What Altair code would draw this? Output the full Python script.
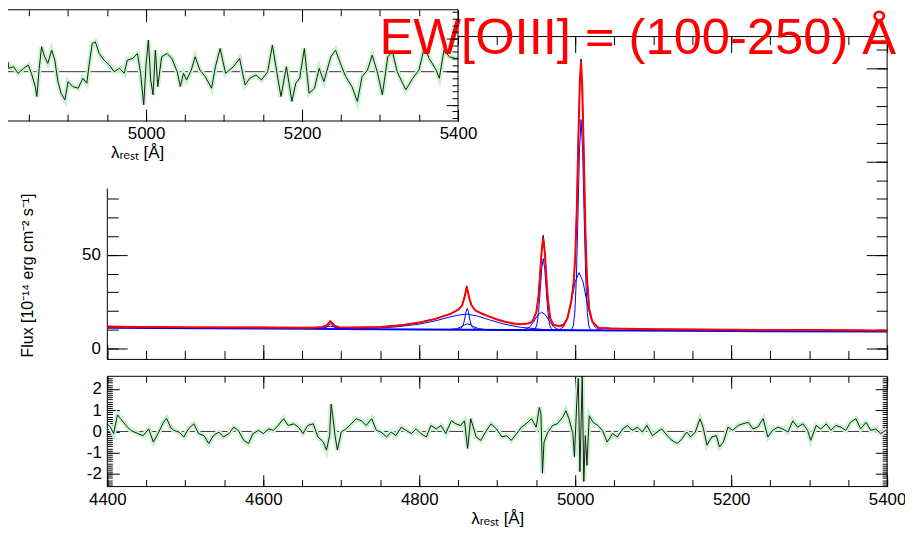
import altair as alt
import pandas as pd

FONT = "Liberation Sans"
TITLE_TEXT = "EW[OIII] = (100-250) Å"
Y_TITLE = "Flux [10⁻¹⁴ erg cm⁻² s⁻¹]"
X_TITLE = "λᵣₑₛₜ [Å]"

# ---------------- main panel: model (red), observed (black) ----------------
model_wave = [4400, 4500, 4600, 4660, 4675, 4681, 4686, 4691, 4697, 4720,
              4750, 4780, 4800, 4820, 4840, 4850, 4855, 4858, 4861, 4864,
              4867, 4872, 4880, 4890, 4900, 4910, 4920, 4930, 4940, 4945,
              4950, 4953, 4955, 4957, 4959, 4961, 4963, 4965, 4968, 4972,
              4980, 4985, 4990, 4995, 4998, 5000, 5002, 5004, 5006, 5007.5,
              5009, 5011, 5013, 5015, 5018, 5022, 5030, 5045, 5100, 5200,
              5300, 5400]
model_flux = [11.5, 11.3, 11.1, 11.0, 11.3, 12.1, 14.4, 12.1, 11.3, 11.1,
              11.4, 12.4, 13.8, 15.6, 18.4, 20.6, 23.0, 27.0, 33.0, 27.0,
              23.0, 20.2, 18.6, 16.9, 15.4, 14.2, 13.3, 12.9, 13.2, 14.3,
              19.0, 28.0, 40.0, 52.0, 59.0, 51.5, 38.0, 26.0, 16.0, 12.5,
              11.8, 12.3, 16.0, 25.3, 35.1, 48.5, 73.7, 110.7, 143.9, 153.5,
              140.8, 104.1, 64.5, 37.9, 20.7, 14.2, 10.9, 10.6, 10.2, 9.9,
              9.7, 9.5]
obs_flux = [11.8, 11.1, 11.2, 10.9, 11.4, 12.3, 14.9, 12.3, 11.0, 11.2,
            11.3, 12.6, 13.7, 15.8, 18.5, 20.9, 23.2, 27.6, 33.4, 27.0,
            23.3, 20.3, 18.5, 17.0, 15.3, 14.1, 13.5, 12.8, 13.3, 14.2,
            19.3, 27.8, 40.6, 52.5, 60.5, 51.0, 38.4, 26.3, 15.8, 12.4,
            12.2, 12.8, 16.3, 25.1, 35.5, 48.0, 76.0, 112.5, 142.0, 155.0,
            138.5, 106.0, 63.0, 38.8, 21.0, 14.1, 10.9, 10.7, 10.2, 10.0,
            9.9, 9.4]

# ---------------- blue fit components ----------------
cont_wave = [4400, 4600, 4800, 5000, 5200, 5400]
cont_flux = [10.9, 10.5, 10.0, 9.6, 9.2, 8.9]
heii_n_wave = [4672, 4679, 4682, 4684, 4686, 4688, 4690, 4693, 4700]
heii_n_flux = [10.6, 10.9, 11.6, 12.4, 13.0, 12.4, 11.6, 10.9, 10.6]
heii_b_wave = [4660, 4672, 4680, 4686, 4692, 4700, 4712]
heii_b_flux = [10.6, 10.9, 11.4, 11.7, 11.4, 10.9, 10.6]
hb_b_wave = [4700, 4740, 4770, 4800, 4820, 4840, 4852, 4862, 4875, 4890, 4910, 4930, 4960, 5000]
hb_b_flux = [10.3, 10.6, 11.4, 12.9, 14.6, 16.8, 17.9, 18.2, 17.2, 15.2, 12.8, 11.2, 10.0, 9.6]
hb_n_wave = [4848, 4853, 4856, 4858, 4860, 4861.5, 4863, 4865, 4867, 4870, 4875]
hb_n_flux = [10.1, 10.5, 12.0, 15.0, 19.5, 21.3, 19.5, 15.0, 12.0, 10.5, 10.1]
hb_i_wave = [4840, 4848, 4854, 4858, 4862, 4866, 4870, 4876, 4884]
hb_i_flux = [10.1, 10.5, 11.5, 12.5, 13.0, 12.5, 11.5, 10.5, 10.1]
o1_n_wave = [4947, 4949, 4951, 4953, 4955, 4957, 4959, 4961, 4963, 4965, 4967, 4969, 4971]
o1_n_flux = [9.8, 10.6, 12.9, 19.2, 30.3, 42.5, 48.0, 42.5, 30.3, 19.2, 12.9, 10.6, 9.8]
o1_b_wave = [4930, 4937, 4942, 4947, 4952, 4957, 4962, 4967, 4972, 4977, 4985]
o1_b_flux = [9.7, 10.3, 11.6, 14.4, 17.8, 19.3, 17.8, 14.4, 11.6, 10.3, 9.7]
o2_n_wave = [4995.5, 4997.5, 4999.5, 5001.5, 5003.5, 5005.5, 5007.5, 5009.5, 5011.5, 5013.5, 5015.5, 5017.5, 5019.5]
o2_n_flux = [10.0, 11.9, 19.1, 37.6, 70.4, 106.3, 122.5, 106.3, 70.4, 37.6, 19.1, 11.9, 10.0]
o2_b_wave = [4975, 4980, 4985, 4990, 4995, 5000, 5005, 5010, 5015, 5020, 5025, 5030, 5035]
o2_b_flux = [9.6, 9.9, 11.5, 16.0, 25.0, 35.6, 40.5, 35.6, 25.0, 16.0, 11.5, 9.9, 9.6]

# ---------------- bottom residual panel ----------------
res_wave = [4400, 4404, 4408, 4413, 4417, 4424, 4430, 4439, 4446, 4453, 4459, 4465, 4472, 4476, 4481,
            4485, 4492, 4498, 4504, 4511, 4517, 4524, 4530, 4536, 4543, 4549, 4556, 4562, 4568, 4575,
            4581, 4587, 4594, 4600, 4607, 4613, 4619, 4626, 4632, 4639, 4645, 4651, 4657, 4664, 4670,
            4677, 4681, 4685, 4687, 4689, 4692, 4695, 4700, 4706, 4713, 4719, 4726, 4732, 4739, 4745,
            4751, 4758, 4764, 4770, 4777, 4783, 4790, 4796, 4802, 4809, 4815, 4822, 4828, 4834, 4841,
            4847, 4853, 4858, 4862, 4866, 4873, 4879, 4885, 4892, 4899, 4906, 4912, 4918, 4925, 4931,
            4937, 4944, 4950, 4954, 4956, 4958, 4960, 4965, 4971, 4977, 4984, 4988, 4992, 4997, 4999,
            5002, 5004, 5006, 5009, 5011, 5013, 5015, 5018, 5023, 5029, 5035, 5041, 5048, 5054, 5061,
            5067, 5073, 5080, 5086, 5092, 5099, 5105, 5111, 5118, 5124, 5131, 5137, 5143, 5148, 5154,
            5160, 5164, 5169, 5175, 5181, 5185, 5190, 5196, 5202, 5209, 5215, 5222, 5228, 5234, 5241,
            5247, 5253, 5260, 5266, 5273, 5279, 5285, 5292, 5298, 5302, 5309, 5315, 5322, 5328, 5334,
            5341, 5347, 5353, 5360, 5366, 5373, 5379, 5385, 5392, 5398, 5400]
res_val = [0.35, 0.2, -0.1, 0.78, 0.6, 0.28, 0.05, -0.1, -0.2, 0.12, -0.5, -0.1, 0.43, 0.62, 0.2,
           0.05, -0.03, -0.26, 0.12, 0.36, -0.1, -0.2, -0.57, -0.2, -0.03, -0.26, -0.1, 0.2, 0.05, -0.42,
           -0.57, -0.1, 0.05, -0.1, 0.12, 0.05, 0.28, 0.6, 0.28, 0.36, 0.2, -0.1, 0.28, 0.36, -0.26,
           -0.5, -0.88, -0.2, 1.29, 0.74, -0.2, -0.88, -0.03, 0.12, 0.36, 0.6, 0.5, 0.28, 0.6, 0.05,
           -0.03, -0.26, -0.03, -0.2, 0.2, 0.05, -0.1, 0.12, -0.1, -0.26, 0.28, 0.12, 0.28, -0.1, 0.5,
           0.36, 0.28, 0.5, -0.8, 0.6, -0.26, -0.42, -0.03, 0.36, 0.12, -0.26, -0.2, -0.42, -0.1, 0.2,
           0.36, 0.6, 0.2, 1.13, 0.82, -1.97, -0.5, -0.03, 0.28, 0.36, 0.67, 0.98, 0.6, -0.1, -1.19,
           1.36, 2.5, -1.9, 2.6, -2.36, -0.2, -1.6, 0.74, 0.43, 0.28, 0.05, -0.5, -0.1, -0.26, 0.12,
           0.28, 0.05, 0.2, -0.03, 0.28, -0.2, -0.03, 0.12, -0.2, -0.42, -0.57, -0.34, -0.03, -0.26, -0.03,
           0.6, 0.2, -0.65, -0.26, -0.2, -0.73, -0.5, 0.2, 0.05, 0.28, 0.36, 0.43, 0.12, 0.2, 0.6,
           -0.26, 0.05, 0.2, 0.12, -0.03, 0.5, 0.2, 0.36, 0.05, -0.42, 0.28, 0.12, 0.36, 0.05, 0.28,
           0.2, 0.05, 0.43, 0.6, 0.12, 0.43, 0.05, 0.12, -0.1, 0.05, 0.0]

# ---------------- inset (top-left) residual ----------------
ins_wave = [4823, 4824, 4830, 4836, 4843, 4849, 4853, 4858, 4860, 4863, 4866, 4870, 4874, 4879, 4883,
            4887, 4891, 4896, 4900, 4906, 4913, 4919, 4924, 4927, 4931, 4935, 4940, 4946, 4953, 4959,
            4966, 4972, 4976, 4983, 4989, 4993, 4997, 5000, 5003, 5006, 5009, 5012, 5015, 5020, 5027,
            5033, 5040, 5044, 5048, 5052, 5058, 5063, 5069, 5076, 5084, 5089, 5095, 5102, 5112, 5120,
            5127, 5133, 5141, 5148, 5156, 5162, 5169, 5173, 5180, 5187, 5192, 5197, 5203, 5209, 5216,
            5222, 5228, 5237, 5243, 5250, 5256, 5264, 5271, 5277, 5284, 5290, 5297, 5303, 5310, 5316,
            5322, 5333, 5342, 5350, 5357, 5363, 5372, 5376, 5382, 5389, 5397, 5400]
ins_val = [0.3, 0.1, 0.15, -0.05, 0.1, 0.2, -0.05, -0.45, -0.75, 0.1, 0.75, 0.45, 0.25, 0.65, 0.35,
           -0.3, -0.65, -0.85, -0.3, -0.45, -0.5, -0.2, -0.35, 0.2, 0.85, 0.9, 0.55, 0.35, 0.2, 0.0,
           0.1, -0.05, 0.35, 0.4, 0.55, -0.05, -1.0, 0.2, 0.95, -0.25, -0.7, 0.65, -0.45, 0.45, 0.55,
           0.4, 0.0, -0.45, -0.05, -0.25, 0.05, 0.45, 0.05, -0.15, -0.5, 0.15, 0.7, -0.05, 0.15, 0.4,
           -0.4, -0.2, -0.1, -0.25, 0.0, 0.8, -0.2, -0.75, 0.15, -0.9, -0.35, -0.2, 0.7, -0.65, -0.5,
           0.1, -0.3, 0.45, 0.65, 0.2, -0.15, -0.45, -0.9, -0.15, 0.05, 0.5, -0.05, -0.7, 0.45, 0.6,
           0.0, -0.55, -0.2, 0.05, 0.75, 0.4, 0.05, -0.2, 0.65, 0.45, 0.4, 0.4]

# ---------------- geometry (one shared plot area, panels placed in it) ----------------
PW, PH = 885, 480                 # plot area
X_DOM = [4400, 5400]
FLUX_DOM = [-6, 167]
RES_DOM = [-2.6, 2.6]
INS_X_DOM = [4823, 5400]
INS_Y_DOM = [-1.49, 1.87]
INS_PATCH_Y = -3.53               # inset white patch reaches below its axis labels

MAIN_X_PX, MAIN_Y_PX = (100, 885), (352, 27)     # (left, right), (bottom, top)
RES_X_PX, RES_Y_PX = (100, 885), (480, 369)
INS_X_PX, INS_Y_PX = (0, 453), (112, 0)

BLUE = "#0000ff"
RED = "#ff0000"
HALO = "#c9f5cd"


def full_x(px, dom):
    k = (dom[1] - dom[0]) / (px[1] - px[0])
    return [dom[0] - px[0] * k, dom[0] + (PW - px[0]) * k]


def full_y(py, dom):
    k = (dom[1] - dom[0]) / (py[0] - py[1])
    return [dom[0] - (PH - py[0]) * k, dom[0] + py[0] * k]


MX, MY = full_x(MAIN_X_PX, X_DOM), full_y(MAIN_Y_PX, FLUX_DOM)
RX, RY = full_x(RES_X_PX, X_DOM), full_y(RES_Y_PX, RES_DOM)
IX, IY = full_x(INS_X_PX, INS_X_DOM), full_y(INS_Y_PX, INS_Y_DOM)


def sc(dom):
    return alt.Scale(domain=dom, nice=False, zero=False)


def carrier(channel, dom, orient, values, tick, offset=0, labels=False, z=0,
            pad=5, title=None, **extra):
    df = pd.DataFrame({"v": [dom[0]]})
    kw = dict(orient=orient, values=values, tickSize={"expr": str(-tick)},
              labels=labels, offset=offset, zindex=z, grid=False, domain=False,
              tickColor="black", tickWidth=1,
              labelPadding=tick + pad, labelFlush=False, labelOverlap=False,
              labelFont=FONT, labelFontSize=17, labelColor="black",
              title=title, titleFont=FONT, titleFontSize=17,
              titleFontWeight="normal", titleColor="black")
    kw.update(extra)
    ax = alt.Axis(**kw)
    if channel == "x":
        enc = {"x": alt.X("v:Q", scale=sc(dom), axis=ax)}
    else:
        enc = {"y": alt.Y("v:Q", scale=sc(dom), axis=ax)}
    return alt.Chart(df).mark_point(opacity=0).encode(**enc)


def steps(a, b, s, nd=2):
    n = int(round((b - a) / s))
    return [round(a + i * s, nd) for i in range(n + 1)]


def segments(xd, yd, segs, color="black", width=1):
    df = pd.DataFrame(segs, columns=["x", "x2", "y", "y2"])
    return alt.Chart(df).mark_rule(color=color, strokeWidth=width).encode(
        x=alt.X("x:Q", scale=sc(xd), axis=None), x2="x2",
        y=alt.Y("y:Q", scale=sc(yd), axis=None), y2="y2")


def box(xdom, ydom, sides="tblr"):
    x0, x1 = xdom
    y0, y1 = ydom
    segs = []
    if "t" in sides:
        segs.append([x0, x1, y1, y1])
    if "b" in sides:
        segs.append([x0, x1, y0, y0])
    if "l" in sides:
        segs.append([x0, x0, y0, y1])
    if "r" in sides:
        segs.append([x1, x1, y0, y1])
    return segs


x_major = steps(4400, 5400, 200)
x_minor = steps(4400, 5400, 50)

# ---------------- main panel ----------------
comp_rows = []
for name, wv, fl in [("heii_n", heii_n_wave, heii_n_flux), ("heii_b", heii_b_wave, heii_b_flux),
                     ("hb_b", hb_b_wave, hb_b_flux), ("hb_n", hb_n_wave, hb_n_flux),
                     ("hb_i", hb_i_wave, hb_i_flux), ("o1_n", o1_n_wave, o1_n_flux),
                     ("o1_b", o1_b_wave, o1_b_flux), ("o2_n", o2_n_wave, o2_n_flux),
                     ("o2_b", o2_b_wave, o2_b_flux)]:
    for w, f in zip(wv, fl):
        comp_rows.append({"wave": w, "flux": f, "comp": name})
df_comp = pd.DataFrame(comp_rows)
df_cont = pd.DataFrame({"wave": cont_wave, "flux": cont_flux})
df_model = pd.DataFrame({"wave": model_wave, "flux": model_flux})
df_obs = pd.DataFrame({"wave": model_wave, "flux": obs_flux})

mx = alt.X("wave:Q", scale=sc(MX), axis=None)
my = alt.Y("flux:Q", scale=sc(MY), axis=None)

main_off_b = MAIN_Y_PX[0] - PH
main_off_t = -MAIN_Y_PX[1]
main_off_l = -MAIN_X_PX[0]
main_off_r = MAIN_X_PX[1] - PW

layers = [
    carrier("y", MY, "left", [0, 50, 100, 150], 20, offset=main_off_l, labels=True, pad=7,
            title=Y_TITLE, titleY=267, titleX=-72, titleFontSize=16),
    carrier("y", MY, "left", steps(0, 160, 10), 11, offset=main_off_l),
    carrier("y", MY, "right", [0, 50, 100, 150], 21, offset=main_off_r),
    carrier("y", MY, "right", steps(0, 160, 10), 11, offset=main_off_r),
    carrier("x", MX, "bottom", x_major, 15, offset=main_off_b),
    carrier("x", MX, "bottom", x_minor, 9, offset=main_off_b),
    carrier("x", MX, "top", x_major, 16, offset=main_off_t),
    carrier("x", MX, "top", x_minor, 8, offset=main_off_t),
    segments(MX, MY, box(X_DOM, FLUX_DOM)),
    alt.Chart(df_comp).mark_line(color=BLUE, strokeWidth=1).encode(x=mx, y=my, detail="comp:N"),
    alt.Chart(df_cont).mark_line(color=BLUE, strokeWidth=2).encode(x=mx, y=my),
    alt.Chart(df_obs).mark_line(color="black", strokeWidth=1).encode(x=mx, y=my),
    alt.Chart(df_model).mark_line(color=RED, strokeWidth=2).encode(x=mx, y=my),
]

# ---------------- inset ----------------
ix = alt.X("wave:Q", scale=sc(IX), axis=None)
iy = alt.Y("val:Q", scale=sc(IY), axis=None)
df_ins = pd.DataFrame({"wave": ins_wave, "val": ins_val})
df_patch = pd.DataFrame({"x0": [INS_X_DOM[0]], "x1": [INS_X_DOM[1]],
                         "y0": [INS_PATCH_Y], "y1": [INS_Y_DOM[1]]})
ins_major = [v for v in x_major if INS_X_DOM[0] <= v <= INS_X_DOM[1]]
ins_minor = [v for v in x_minor if INS_X_DOM[0] <= v <= INS_X_DOM[1]]
ins_off_b = INS_Y_PX[0] - PH
ins_off_t = -INS_Y_PX[1]
ins_off_r = INS_X_PX[1] - PW

layers += [
    alt.Chart(df_patch).mark_rect(color="white").encode(
        x=alt.X("x0:Q", scale=sc(IX), axis=None), x2="x1",
        y=alt.Y("y0:Q", scale=sc(IY), axis=None), y2="y1"),
    segments(IX, IY, [[INS_X_DOM[0], INS_X_DOM[1], 0, 0]], color="#333333"),
    alt.Chart(df_ins).mark_line(color=HALO, strokeWidth=5).encode(x=ix, y=iy),
    alt.Chart(df_ins).mark_line(color="#1a1a1a", strokeWidth=1).encode(x=ix, y=iy),
    segments(IX, IY, box(INS_X_DOM, INS_Y_DOM, "tbr")),
    carrier("x", IX, "bottom", ins_major, 12, offset=ins_off_b, labels=True, z=1,
            format="d", title=X_TITLE, titleX=130, titlePadding=3),
    carrier("x", IX, "bottom", ins_minor, 7, offset=ins_off_b, z=1),
    carrier("x", IX, "top", ins_major, 12, offset=ins_off_t, z=1),
    carrier("x", IX, "top", ins_minor, 6, offset=ins_off_t, z=1),
    carrier("y", IY, "right", [-1, 0, 1], 12, offset=ins_off_r, z=1),
    carrier("y", IY, "right", steps(-1.4, 1.8, 0.2, 1), 6, offset=ins_off_r, z=1),
]

# ---------------- residual panel ----------------
rx = alt.X("wave:Q", scale=sc(RX), axis=None)
ry = alt.Y("val:Q", scale=sc(RY), axis=None)
df_res = pd.DataFrame({"wave": res_wave, "val": res_val})
res_off_b = RES_Y_PX[0] - PH
res_off_t = -RES_Y_PX[1]
res_off_l = -RES_X_PX[0]
res_off_r = RES_X_PX[1] - PW

layers += [
    carrier("y", RY, "left", [-2, -1, 0, 1, 2], 12, offset=res_off_l, labels=True, pad=6,
            labelExpr="replace(datum.label, '\u2212', '-')"),
    carrier("y", RY, "left", steps(-2.5, 2.5, 0.1, 1), 5, offset=res_off_l),
    carrier("y", RY, "right", [-2, -1, 0, 1, 2], 12, offset=res_off_r),
    carrier("y", RY, "right", steps(-2.5, 2.5, 0.1, 1), 5, offset=res_off_r),
    carrier("x", RX, "bottom", x_major, 12, offset=res_off_b, labels=True, format="d", pad=5,
            title=X_TITLE, titlePadding=3, titleX=(RES_X_PX[0] + RES_X_PX[1]) / 2),
    carrier("x", RX, "bottom", x_minor, 7, offset=res_off_b),
    carrier("x", RX, "top", x_major, 12, offset=res_off_t),
    carrier("x", RX, "top", x_minor, 6, offset=res_off_t),
    segments(RX, RY, [[X_DOM[0], X_DOM[1], 0, 0]], color="#333333"),
    alt.Chart(df_res).mark_line(color=HALO, strokeWidth=5).encode(x=rx, y=ry),
    alt.Chart(df_res).mark_line(color="#1a1a1a", strokeWidth=1).encode(x=rx, y=ry),
    segments(RX, RY, box(X_DOM, RES_DOM)),
]

# ---------------- big red label ----------------
layers.append(
    alt.Chart(pd.DataFrame({"t": [TITLE_TEXT]})).mark_text(
        font=FONT, fontSize=51, color=RED, align="left", baseline="alphabetic"
    ).encode(x=alt.value(374), y=alt.value(45), text="t:N")
)

chart = alt.layer(*layers).resolve_scale(
    x="independent", y="independent"
).properties(
    width=PW, height=PH,
    background="white",
    autosize=alt.AutoSizeParams(type="none"),
    padding={"left": 0, "top": 0, "right": 18, "bottom": 48},
).configure_view(stroke="transparent", strokeWidth=0).configure_axis(domain=False)

chart.save("out.html", embed_options={"renderer": "svg", "actions": False})
